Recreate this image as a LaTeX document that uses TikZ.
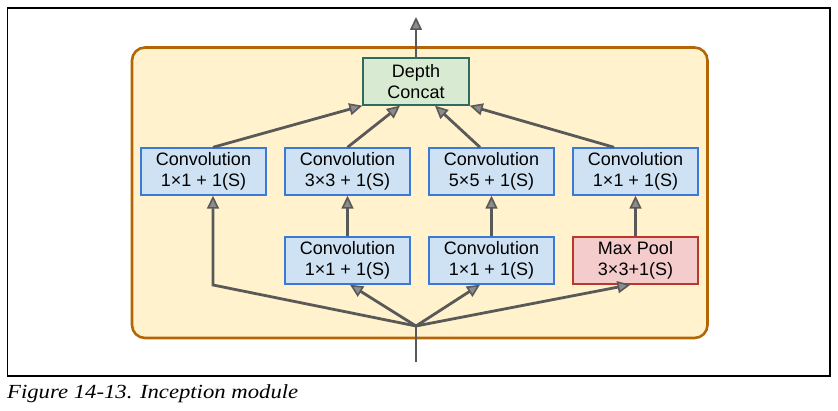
\documentclass[tikz,border=0pt]{standalone}
\usepackage{fontspec}
\setmainfont{Liberation Sans}
\newfontfamily\capfont{Liberation Serif}
\usetikzlibrary{arrows.meta,calc}
\definecolor{modfill}{HTML}{FFF2CC}
\definecolor{moddraw}{HTML}{B46504}
\definecolor{bluefill}{HTML}{CFE2F3}
\definecolor{bluedraw}{HTML}{3C78D8}
\definecolor{redfill}{HTML}{F4CCCC}
\definecolor{reddraw}{HTML}{B8392B}
\definecolor{greenfill}{HTML}{D9EAD3}
\definecolor{greendraw}{HTML}{2D6B5F}
\definecolor{arrowcol}{HTML}{595959}
\definecolor{arrowin}{HTML}{8C8C8C}
\begin{document}
\begin{tikzpicture}[x=1pt,y=-1pt,
  box/.style={draw, line width=1.4pt, minimum width=125pt, minimum height=47pt,
    inner sep=0pt, align=center, font=\fontsize{18}{21.5}\selectfont},
  convbox/.style={box, draw=bluedraw, fill=bluefill},
  poolbox/.style={box, draw=reddraw, fill=redfill},
  concatbox/.style={box, draw=greendraw, fill=greenfill, minimum width=106pt},
  flow/.style={draw=arrowcol, line width=2.8pt,
    -{Triangle[length=13pt,width=12pt,line width=1.6pt,fill=arrowin]}},
  plain/.style={draw=arrowcol, line width=2.8pt}]
\useasboundingbox (0,0) rectangle (838,411);
\draw[line width=1.3pt] (7.5,8) rectangle (830,376);
\draw[draw=moddraw, fill=modfill, line width=2.6pt, rounded corners=13pt]
  (132,47.5) rectangle (707.5,338);
\node[concatbox] (cat) at (416,81.5) {Depth\\Concat};
\node[convbox] (c1) at (203.5,171.5) {Convolution\\1×1 + 1(S)};
\node[convbox] (c2) at (347.5,171.5) {Convolution\\3×3 + 1(S)};
\node[convbox] (c3) at (491.5,171.5) {Convolution\\5×5 + 1(S)};
\node[convbox] (c4) at (635.5,171.5) {Convolution\\1×1 + 1(S)};
\node[convbox] (r2) at (347.5,260.5) {Convolution\\1×1 + 1(S)};
\node[convbox] (r3) at (491.5,260.5) {Convolution\\1×1 + 1(S)};
\node[poolbox] (mp) at (635.5,260.5) {Max Pool\\3×3+1(S)};
\coordinate (top) at (416,17);
\coordinate (in) at (416,362);
\coordinate (j) at (416,326);
\coordinate (lb) at (213,285);
\node[anchor=base west, inner sep=0pt, font=\capfont\itshape\fontsize{20}{22}\selectfont]
  (cap) at (7,399) {\scalebox{1.135}[1]{Figure 14-13. Inception module}};
% output
\draw[flow] (cat.north) -- (top);
% top arrows
\draw[flow] ($(c1.north)+(9.5,0)$) -- (cat.south west);
\draw[flow] (c2.north) -- ($(cat.south)+(-16,0)$);
\draw[flow] ($(c3.north)+(-11.5,0)$) -- ($(cat.south)+(19,0)$);
\draw[flow] ($(c4.north)+(-21.5,0)$) -- (cat.south east);
% vertical arrows
\draw[flow] (r2.north) -- (c2.south);
\draw[flow] (r3.north) -- (c3.south);
\draw[flow] (mp.north) -- (c4.south);
% bottom
\draw[plain] (in) -- (j);
\draw[flow] (j) -- (lb) -- ($(c1.south)+(9.5,0)$);
\draw[flow] (j) -- ($(r2.south)+(2.5,0)$);
\draw[flow] (j) -- ($(r3.south)+(-11.5,0)$);
\draw[flow] (j) -- ($(mp.south)+(-5,0)$);
\end{tikzpicture}
\end{document}
